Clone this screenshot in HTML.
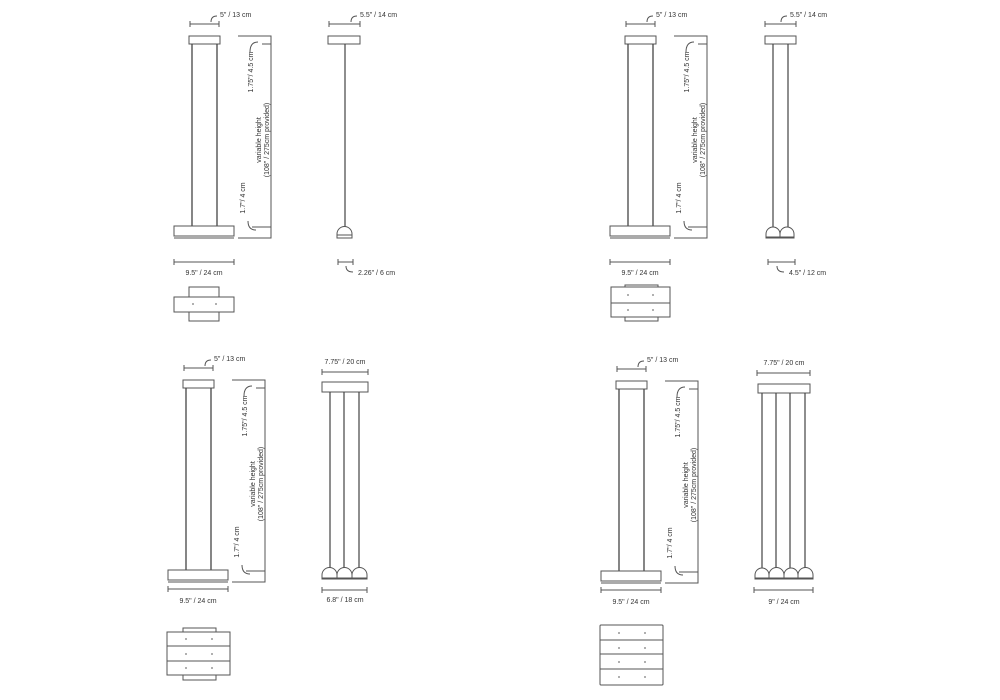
<!DOCTYPE html>
<html><head><meta charset="utf-8"><style>
html,body{margin:0;padding:0;background:#fff;width:1000px;height:700px;overflow:hidden}
svg{display:block}
text{font-family:"Liberation Sans",sans-serif;font-size:7px;fill:#333}
</style></head><body>
<svg width="1000" height="700" viewBox="0 0 1000 700" xmlns="http://www.w3.org/2000/svg">
<defs>
<g id="col" fill="none" stroke="#555" stroke-width="1">
  <line x1="190" y1="24" x2="219" y2="24"/><line x1="190" y1="21" x2="190" y2="27"/><line x1="219" y1="21" x2="219" y2="27"/>
  <path d="M211,22 Q211,16 217,16"/>
  <rect x="189" y="36" width="31" height="8" fill="#fff"/>
  <line x1="192" y1="44" x2="192" y2="226" stroke="#444" stroke-width="1.3"/>
  <line x1="217" y1="44" x2="217" y2="226" stroke="#444" stroke-width="1.3"/>
  <rect x="174" y="226" width="60" height="10" fill="#fff"/>
  <line x1="174" y1="238" x2="234" y2="238"/>
  <polyline points="238,36 271,36 271,238 238,238"/>
  <path d="M250,52 Q250,42 258,42"/><line x1="262" y1="44" x2="271" y2="44"/>
  <path d="M248,221 Q248,230 256,230"/><line x1="252" y1="227" x2="271" y2="227"/>
</g>
<g id="dim" fill="none" stroke="#555" stroke-width="1">
  <line x1="174" y1="0" x2="234" y2="0"/><line x1="174" y1="-3" x2="174" y2="3"/><line x1="234" y1="-3" x2="234" y2="3"/>
</g>
<g id="coltxt">
  <text x="220" y="17">5" / 13 cm</text>
  <text transform="translate(253,72) rotate(-90)" text-anchor="middle">1.75"/  4.5 cm</text>
  <text transform="translate(261,140) rotate(-90)" text-anchor="middle">variable height</text>
  <text transform="translate(269,140) rotate(-90)" text-anchor="middle">(108" / 275cm provided)</text>
  <text transform="translate(245,198) rotate(-90)" text-anchor="middle">1.7"/  4 cm</text>
</g>
</defs>

<use href="#col"/><use href="#coltxt"/>
<g transform="translate(0,262)"><use href="#dim"/></g>
<text x="204" y="275" text-anchor="middle">9.5" / 24 cm</text>

<g transform="translate(436,0)"><use href="#col"/><use href="#coltxt"/></g>
<g transform="translate(436,262)"><use href="#dim"/></g>
<text x="640" y="275" text-anchor="middle">9.5" / 24 cm</text>

<g transform="translate(-6,344)"><use href="#col"/><use href="#coltxt"/></g>
<g transform="translate(-6,589)"><use href="#dim"/></g>
<text x="198" y="603" text-anchor="middle">9.5" / 24 cm</text>

<g transform="translate(427,345)"><use href="#col"/><use href="#coltxt"/></g>
<g transform="translate(427,590)"><use href="#dim"/></g>
<text x="631" y="604" text-anchor="middle">9.5" / 24 cm</text>

<g fill="none" stroke="#555" stroke-width="1">
<!-- Pendant 1 -->
<line x1="329" y1="24" x2="360" y2="24"/><line x1="329" y1="21" x2="329" y2="27"/><line x1="360" y1="21" x2="360" y2="27"/>
<path d="M351,22 Q351,16 357,16"/>
<rect x="328" y="36" width="32" height="8"/>
<line x1="345" y1="44" x2="345" y2="227" stroke="#444" stroke-width="1.2"/>
<path d="M337,238 L337,234 A7.5,7.5 0 0 1 352,234 L352,238 Z"/>
<line x1="337" y1="235" x2="352" y2="235"/>
<line x1="338" y1="262" x2="353" y2="262"/><line x1="338" y1="259" x2="338" y2="265"/><line x1="353" y1="259" x2="353" y2="265"/>
<path d="M346,266 Q346,272 353,272"/>

<!-- Pendant 2 -->
<line x1="765" y1="24" x2="796" y2="24"/><line x1="765" y1="21" x2="765" y2="27"/><line x1="796" y1="21" x2="796" y2="27"/>
<path d="M781,22 Q781,16 787,16"/>
<rect x="765" y="36" width="31" height="8"/>
<line x1="773" y1="44" x2="773" y2="227" stroke="#444" stroke-width="1.2"/>
<line x1="788" y1="44" x2="788" y2="227" stroke="#444" stroke-width="1.2"/>
<path d="M766,238 L766,234 A7,7 0 0 1 780,234 L780,238 Z"/>
<path d="M780,238 L780,234 A7,7 0 0 1 794,234 L794,238 Z"/>
<line x1="766" y1="237" x2="794" y2="237"/>
<line x1="768" y1="262" x2="795" y2="262"/><line x1="768" y1="259" x2="768" y2="265"/><line x1="795" y1="259" x2="795" y2="265"/>
<path d="M777,266 Q777,272 784,272"/>

<!-- Pendant 3 -->
<line x1="322" y1="372" x2="368" y2="372"/><line x1="322" y1="369" x2="322" y2="375"/><line x1="368" y1="369" x2="368" y2="375"/>
<rect x="322" y="382" width="46" height="10"/>
<line x1="330" y1="392" x2="330" y2="568" stroke="#444" stroke-width="1.2"/>
<line x1="344" y1="392" x2="344" y2="568" stroke="#444" stroke-width="1.2"/>
<line x1="359" y1="392" x2="359" y2="568" stroke="#444" stroke-width="1.2"/>
<path d="M322,579 L322,575 A7.5,7.5 0 0 1 337,575 L337,579 Z"/>
<path d="M337,579 L337,575 A7.5,7.5 0 0 1 352,575 L352,579 Z"/>
<path d="M352,579 L352,575 A7.5,7.5 0 0 1 367,575 L367,579 Z"/>
<line x1="322" y1="578" x2="367" y2="578"/>
<line x1="322" y1="590" x2="367" y2="590"/><line x1="322" y1="587" x2="322" y2="593"/><line x1="367" y1="587" x2="367" y2="593"/>

<!-- Pendant 4 -->
<line x1="757" y1="373" x2="810" y2="373"/><line x1="757" y1="370" x2="757" y2="376"/><line x1="810" y1="370" x2="810" y2="376"/>
<rect x="758" y="384" width="52" height="9"/>
<line x1="762" y1="393" x2="762" y2="568" stroke="#444" stroke-width="1.2"/>
<line x1="776" y1="393" x2="776" y2="568" stroke="#444" stroke-width="1.2"/>
<line x1="790" y1="393" x2="790" y2="568" stroke="#444" stroke-width="1.2"/>
<line x1="805" y1="393" x2="805" y2="568" stroke="#444" stroke-width="1.2"/>
<path d="M755,579 L755,575 A7,7 0 0 1 769,575 L769,579 Z"/>
<path d="M769,579 L769,575 A7,7 0 0 1 784,575 L784,579 Z"/>
<path d="M784,579 L784,575 A7,7 0 0 1 798,575 L798,579 Z"/>
<path d="M798,579 L798,575 A7,7 0 0 1 813,575 L813,579 Z"/>
<line x1="755" y1="578" x2="813" y2="578"/>
<line x1="754" y1="590" x2="813" y2="590"/><line x1="754" y1="587" x2="754" y2="593"/><line x1="813" y1="587" x2="813" y2="593"/>

<!-- Top views -->
<rect x="189" y="287" width="30" height="34"/>
<rect x="174" y="297" width="60" height="15" fill="#fff"/>
<rect x="625" y="285" width="33" height="36"/>
<rect x="611" y="287" width="59" height="30" fill="#fff"/>
<line x1="611" y1="303" x2="670" y2="303"/>
<rect x="183" y="628" width="33" height="52"/>
<rect x="167" y="632" width="63" height="43" fill="#fff"/>
<line x1="167" y1="646" x2="230" y2="646"/><line x1="167" y1="661" x2="230" y2="661"/>
<rect x="600" y="625" width="63" height="60" rx="1"/>
<line x1="600" y1="640" x2="663" y2="640"/><line x1="600" y1="654" x2="663" y2="654"/><line x1="600" y1="669" x2="663" y2="669"/>
</g>

<g fill="#777">
<circle cx="193" cy="304" r="0.9"/><circle cx="216" cy="304" r="0.9"/>
<circle cx="628" cy="295" r="0.9"/><circle cx="653" cy="295" r="0.9"/><circle cx="628" cy="310" r="0.9"/><circle cx="653" cy="310" r="0.9"/>
<circle cx="186" cy="639" r="0.9"/><circle cx="212" cy="639" r="0.9"/><circle cx="186" cy="654" r="0.9"/><circle cx="212" cy="654" r="0.9"/><circle cx="186" cy="668" r="0.9"/><circle cx="212" cy="668" r="0.9"/>
<circle cx="619" cy="633" r="0.9"/><circle cx="645" cy="633" r="0.9"/><circle cx="619" cy="648" r="0.9"/><circle cx="645" cy="648" r="0.9"/><circle cx="619" cy="662" r="0.9"/><circle cx="645" cy="662" r="0.9"/><circle cx="619" cy="677" r="0.9"/><circle cx="645" cy="677" r="0.9"/>
</g>

<text x="360" y="17">5.5" / 14 cm</text>
<text x="358" y="275">2.26" / 6 cm</text>
<text x="790" y="17">5.5" / 14 cm</text>
<text x="789" y="275">4.5" / 12 cm</text>
<text x="345" y="364" text-anchor="middle">7.75" / 20 cm</text>
<text x="345" y="602" text-anchor="middle">6.8" / 18 cm</text>
<text x="784" y="365" text-anchor="middle">7.75" / 20 cm</text>
<text x="784" y="604" text-anchor="middle">9" / 24 cm</text>
</svg>
</body></html>
